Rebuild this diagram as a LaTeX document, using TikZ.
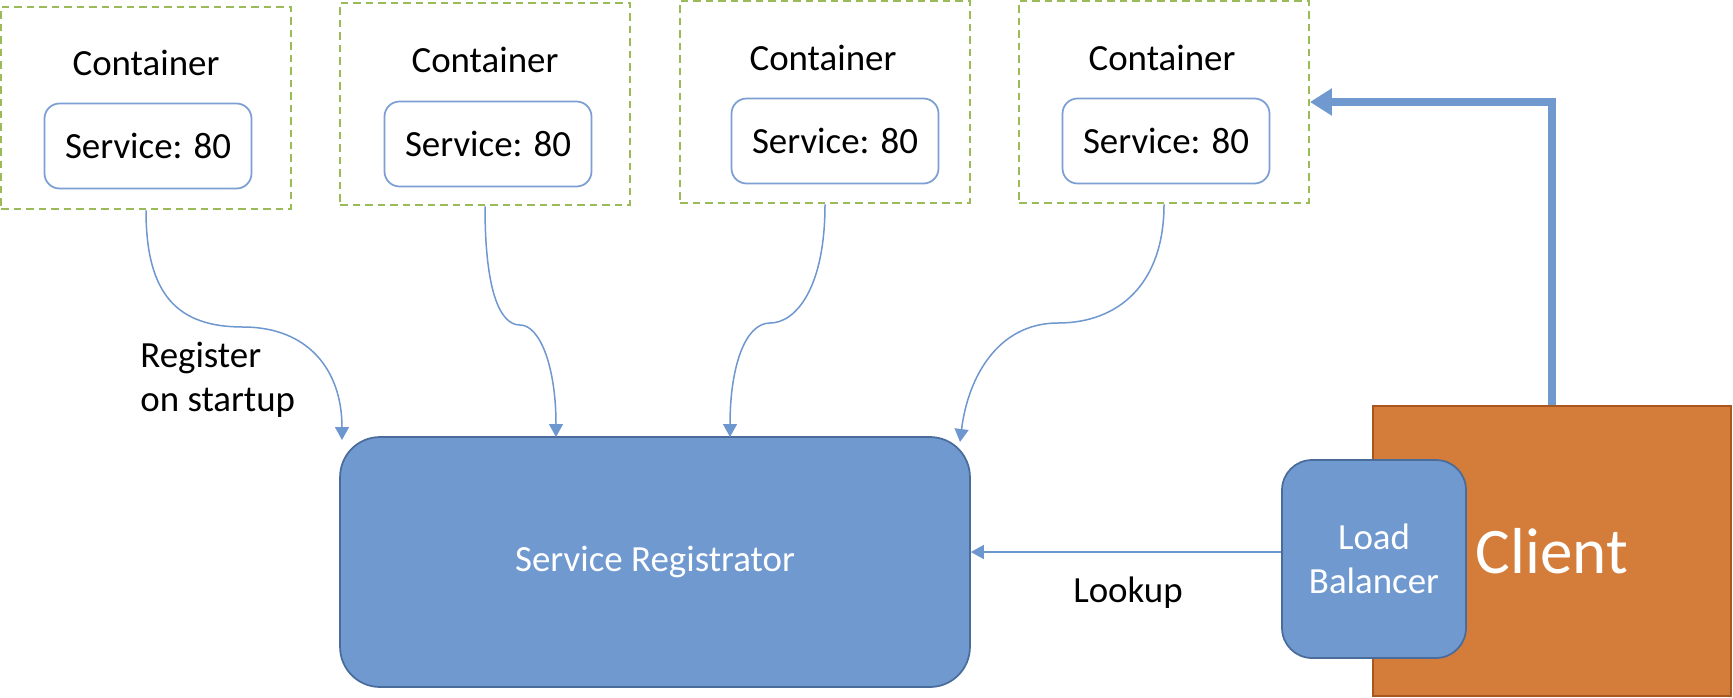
\documentclass[tikz,border=0pt]{standalone}
\usepackage{fontspec}
\setmainfont{Carlito}
\usetikzlibrary{arrows.meta}
\definecolor{boxgreen}{HTML}{9BBB59}
\definecolor{svcline}{HTML}{7C9FD3}
\definecolor{linkblue}{HTML}{6F97CF}
\definecolor{regfill}{HTML}{7099D0}
\definecolor{regline}{HTML}{4A6C9B}
\definecolor{clientfill}{HTML}{D47C3A}
\definecolor{clientline}{HTML}{A9571F}
\tikzstyle{ContainerNode}=[rectangle, draw=boxgreen, dash pattern=on 0.15cm off 0.1cm, line width=0.04cm, minimum width=5.8cm, minimum height=4.06cm]
\tikzstyle{LabelNode}=[inner sep=0pt, font=\fontsize{21}{25}\selectfont]
\tikzstyle{ServiceNode}=[rectangle, rounded corners=0.3cm, draw=svcline, line width=0.035cm, minimum width=4.14cm, minimum height=1.7cm, font=\fontsize{21}{25}\selectfont]
\tikzstyle{RegNode}=[rectangle, rounded corners=0.8cm, draw=regline, fill=regfill, line width=0.035cm, text=white, minimum width=12.6cm, minimum height=5cm, font=\fontsize{21}{25}\selectfont]
\tikzstyle{LbNode}=[RegNode, rounded corners=0.6cm, minimum width=3.68cm, minimum height=3.96cm, align=center]
\tikzstyle{ClientNode}=[rectangle, draw=clientline, fill=clientfill, line width=0.04cm, text=white, minimum width=7.18cm, minimum height=5.8cm, font=\fontsize{37}{44}\selectfont]
\tikzstyle{RegEdge}=[-{Triangle[length=0.26cm,width=0.28cm]}, draw=linkblue, line width=0.03cm]
\tikzstyle{CallEdge}=[-{Triangle[length=0.44cm,width=0.52cm]}, draw=regfill, line width=0.16cm]

\begin{document}
\begin{tikzpicture}[x=0.02cm, y=-0.02cm]
\useasboundingbox (0,0) rectangle (1733,697);
\node[ContainerNode](box1) at (146,108) {};
\node[ContainerNode](box2) at (485,104) {};
\node[ContainerNode](box3) at (825,102) {};
\node[ContainerNode](box4) at (1164,102) {};
\node[LabelNode](lbl1) at (146,63) {Container};
\node[LabelNode](lbl2) at (485,60) {Container};
\node[LabelNode](lbl3) at (823,58) {Container};
\node[LabelNode](lbl4) at (1162,58) {Container};
\node[ServiceNode](svc1) at (148,146) {Service: 80};
\node[ServiceNode](svc2) at (488,144) {Service: 80};
\node[ServiceNode](svc3) at (835,141) {Service: 80};
\node[ServiceNode](svc4) at (1166,141) {Service: 80};

\node[RegNode](reg) at (655,562) {Service Registrator};
\node[ClientNode](client) at (1552,551) {Client};
\node[LbNode](lb) at (1374,559) {Load\\Balancer};
\node[LabelNode, align=left, anchor=west](regtext) at (140,380) {Register\\on startup};
\node[LabelNode](lookup) at (1128,593) {Lookup};

\coordinate (in1) at (342,440);
\coordinate (in2) at (556,437);
\coordinate (in3) at (730,437);
\coordinate (in4) at (960,442);

\draw[RegEdge](box1.south) .. controls +(0,85) and +(-65,0) .. (243,327) .. controls +(65,0) and +(0,-70) .. (in1);
\draw[RegEdge](box2.south) .. controls +(0,85) and +(-20,0) .. (520,325) .. controls +(20,0) and +(0,-70) .. (in2);
\draw[RegEdge](box3.south) .. controls +(0,85) and +(25,0) .. (770,323) .. controls +(-25,0) and +(0,-70) .. (in3);
\draw[RegEdge](box4.south) .. controls +(0,80) and +(60,0) .. (1058,323) .. controls +(-60,0) and +(8,-65) .. (in4);
\draw[RegEdge]([yshift=0.14cm]lb.west) -- ([yshift=0.14cm]lb.west -| reg.east);
\draw[CallEdge](client.north) |- (box4.east);
\end{tikzpicture}
\end{document}
